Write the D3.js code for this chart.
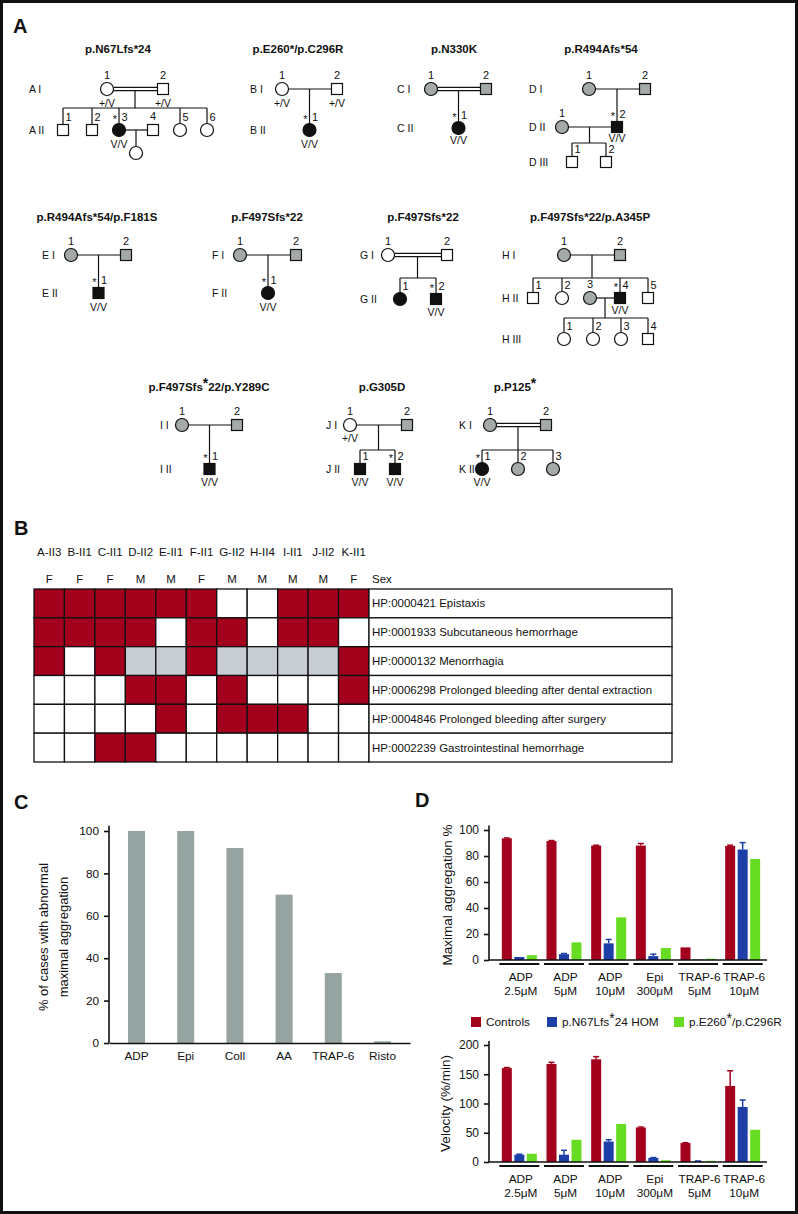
<!DOCTYPE html>
<html><head><meta charset="utf-8">
<script src="https://cdn.jsdelivr.net/npm/d3@7"></script>
<style>
body{margin:0;background:#fff}
svg{display:block}
text{font-family:"Liberation Sans",Arial,Helvetica,sans-serif;fill:#111}
</style>
</head><body>
<svg id="fig" width="798" height="1214"></svg>
<script>
// ================= DATA =================
// ---- Panel A : pedigrees ----
const pedigreeTitles = [
  ['A','p.N67Lfs*24'], ['B','p.E260*/p.C296R'], ['C','p.N330K'], ['D','p.R494Afs*54'],
  ['E','p.R494Afs*54/p.F181S'], ['F','p.F497Sfs*22'], ['G','p.F497Sfs*22'], ['H','p.F497Sfs*22/p.A345P'],
  ['I','p.F497Sfs^*22/p.Y289C'], ['J','p.G305D'], ['K','p.P125^*']
];
// [family, generation, number, sex, status(0 open,1 grey,2 affected), genotype, proband]
const pedPeople = [
  ['A','I',1,'F',0,'+/V',0],['A','I',2,'M',0,'+/V',0],
  ['A','II',1,'M',0,'',0],['A','II',2,'M',0,'',0],['A','II',3,'F',2,'V/V',1],['A','II',4,'M',0,'',0],['A','II',5,'F',0,'',0],['A','II',6,'F',0,'',0],
  ['A','III',0,'F',0,'',0],
  ['B','I',1,'F',0,'+/V',0],['B','I',2,'M',0,'+/V',0],['B','II',1,'F',2,'V/V',1],
  ['C','I',1,'F',1,'',0],['C','I',2,'M',1,'',0],['C','II',1,'F',2,'V/V',1],
  ['D','I',1,'F',1,'',0],['D','I',2,'M',1,'',0],['D','II',1,'F',1,'',0],['D','II',2,'M',2,'V/V',1],['D','III',1,'M',0,'',0],['D','III',2,'M',0,'',0],
  ['E','I',1,'F',1,'',0],['E','I',2,'M',1,'',0],['E','II',1,'M',2,'V/V',1],
  ['F','I',1,'F',1,'',0],['F','I',2,'M',1,'',0],['F','II',1,'F',2,'V/V',1],
  ['G','I',1,'F',0,'',0],['G','I',2,'M',0,'',0],['G','II',1,'F',2,'',0],['G','II',2,'M',2,'V/V',1],
  ['H','I',1,'F',1,'',0],['H','I',2,'M',1,'',0],['H','II',1,'M',0,'',0],['H','II',2,'F',0,'',0],['H','II',3,'F',1,'',0],['H','II',4,'M',2,'V/V',1],['H','II',5,'M',0,'',0],
  ['H','III',1,'F',0,'',0],['H','III',2,'F',0,'',0],['H','III',3,'F',0,'',0],['H','III',4,'M',0,'',0],
  ['I','I',1,'F',1,'',0],['I','I',2,'M',1,'',0],['I','II',1,'M',2,'V/V',1],
  ['J','I',1,'F',0,'+/V',0],['J','I',2,'M',1,'',0],['J','II',1,'M',2,'V/V',0],['J','II',2,'M',2,'V/V',1],
  ['K','I',1,'F',1,'',0],['K','I',2,'M',1,'',0],['K','II',1,'F',2,'V/V',1],['K','II',2,'F',1,'',0],['K','II',3,'F',1,'',0]
];
// [family, parents' generation, parent a, parent b, consanguineous, children]
const pedUnions = [
  ['A','I',1,2,1,[1,2,3,5,6]], ['A','II',3,4,0,[0]],
  ['B','I',1,2,0,[1]], ['C','I',1,2,1,[1]],
  ['D','I',1,2,0,[2]], ['D','II',1,2,0,[1,2]],
  ['E','I',1,2,0,[1]], ['F','I',1,2,0,[1]],
  ['G','I',1,2,1,[1,2]], ['H','I',1,2,0,[1,2,4,5]], ['H','II',3,4,0,[1,2,3,4]],
  ['I','I',1,2,0,[1]], ['J','I',1,2,0,[1,2]], ['K','I',1,2,1,[1,2,3]]
];

// ---- Panel B : phenotype matrix ----
const patients = ['A-II3','B-II1','C-II1','D-II2','E-II1','F-II1','G-II2','H-II4','I-II1','J-II2','K-II1'];
const patientSex = ['F','F','F','M','M','F','M','M','M','M','F'];
const phenotypes = ['HP:0000421 Epistaxis','HP:0001933 Subcutaneous hemorrhage','HP:0000132 Menorrhagia',
  'HP:0006298 Prolonged bleeding after dental extraction','HP:0004846 Prolonged bleeding after surgery','HP:0002239 Gastrointestinal hemorrhage'];
// 1 = present, 0 = absent, 2 = not applicable
const phenoEpistaxis   = [1,1,1,1,1,1,0,0,1,1,1];
const phenoSubcut      = [1,1,1,1,0,1,1,0,1,1,0];
const phenoMenorrhagia = [1,0,1,2,2,1,2,2,2,2,1];
const phenoDental      = [0,0,0,1,1,0,1,0,0,0,1];
const phenoSurgery     = [0,0,0,0,1,0,1,1,1,0,0];
const phenoGI          = [0,0,1,1,0,0,0,0,0,0,0];

// ---- Panel C ----
const agonistsC = ['ADP','Epi','Coll','AA','TRAP-6','Risto'];
const abnormalPct = [100,100,92,70,33,0.8];
const yTicksC = [0,20,40,60,80,100];

// ---- Panel D ----
const dAgonist = ['ADP','ADP','ADP','Epi','TRAP-6','TRAP-6'];
const dDose = ['2.5\u03bcM','5\u03bcM','10\u03bcM','300\u03bcM','5\u03bcM','10\u03bcM'];
const dSeries = ['Controls','p.N67Lfs^*24 HOM','p.E260^*/p.C296R'];
const aggControls    = [93.6, 91.5, 88.0, 88.0, 9.7, 87.7];
const aggControlsErr = [0.3, 0.4, 0.3, 1.6, 0, 0.6];
const aggN67         = [2.3, 4.5, 12.8, 3.0, 0.3, 85.0];
const aggN67Err      = [0, 0.5, 3.0, 1.5, 0, 5.3];
const aggE260        = [3.7, 13.6, 32.8, 9.2, 1.0, 77.7];
const velControls    = [160.5, 167.6, 175.6, 59.0, 32.4, 130.0];
const velControlsErr = [1.0, 2.8, 4.5, 0.8, 0.6, 26.0];
const velN67         = [12.5, 12.5, 35.0, 7.0, 1.5, 94.0];
const velN67Err      = [0.8, 7.5, 3.0, 0.6, 0.3, 12.0];
const velE260        = [14.0, 38.0, 65.0, 3.0, 2.0, 55.0];
const yTicksAgg = [0,20,40,60,80,100];
const yTicksVel = [0,50,100,150,200];

// ================= LAYOUT / STYLE =================
const C_RED = '#a3001e', C_BLUE = '#1c3fa8', C_GREEN = '#66dd22', C_GREY = '#a3aaa8', C_BAR = '#96a4a1', C_NA = '#c8ccd3', INK = '#111';
const pedLayout = {
  A:{label:29, title:[118,49], gens:['I','II'], genY:{I:89,II:130,III:153}, sib:{I:108}, genoDy:18,
     x:{I1:107,I2:163,II1:63,II2:92,II3:119,II4:153,II5:180,II6:207,III0:136}},
  B:{label:250, title:[298,49], gens:['I','II'], genY:{I:89,II:130}, sib:{}, genoDy:18, x:{I1:282,I2:337,II1:309.5}},
  C:{label:397, title:[454,49], gens:['I','II'], genY:{I:89,II:128}, sib:{}, genoDy:16, x:{I1:431,I2:486,II1:458.5}},
  D:{label:529, title:[601,49], gens:['I','II','III'], genY:{I:89,II:127,III:162}, sib:{II:143}, genoDy:15,
     x:{I1:589,I2:645,II1:562,II2:617,III1:572,III2:606}},
  E:{label:42, title:[97,217], gens:['I','II'], genY:{I:255,II:293}, sib:{}, genoDy:18, x:{I1:71,I2:126,II1:98.5}},
  F:{label:212, title:[267,217], gens:['I','II'], genY:{I:255,II:293}, sib:{}, genoDy:18, x:{I1:240,I2:296,II1:268}},
  G:{label:360, title:[423,217], gens:['I','II'], genY:{I:255,II:299}, sib:{I:278}, genoDy:17, x:{I1:388,I2:447,II1:400,II2:436}},
  H:{label:502, title:[590,217], gens:['I','II','III'], genY:{I:255,II:298,III:339}, sib:{I:278,II:318}, genoDy:16,
     x:{I1:564,I2:620,II1:533,II2:562,II3:590,II4:620,II5:648,III1:564,III2:593,III3:621,III4:648}},
  I:{label:160, title:[209,387], gens:['I','II'], genY:{I:425,II:469}, sib:{}, genoDy:17, x:{I1:182,I2:237,II1:209.5}},
  J:{label:326, title:[382,387], gens:['I','II'], genY:{I:425,II:469}, sib:{I:450}, genoDy:17, x:{I1:350,I2:407,II1:360,II2:395}},
  K:{label:459, title:[515,387], gens:['I','II'], genY:{I:425,II:469}, sib:{I:450}, genoDy:17, x:{I1:490,I2:546,II1:482,II2:518,II3:553}}
};
const nextGen = g => ({I:'II', II:'III'})[g];

// ================= DRAW =================
const svg = d3.select('#fig');
svg.append('rect').attr('x',1.5).attr('y',1.5).attr('width',795).attr('height',1211)
  .attr('fill','#fff').attr('stroke',INK).attr('stroke-width',3);

function richText(sel, str){
  str.split('^*').forEach((p,i)=>{
    if(i>0){ sel.append('tspan').attr('dy',-3.5).attr('font-size','1.2em').text('*');
             sel.append('tspan').attr('dy',3.5).text(p); }
    else sel.append('tspan').text(p);
  });
  return sel;
}
function letter(t,x,y){ svg.append('text').attr('x',x).attr('y',y).attr('font-size',20).attr('font-weight','bold').text(t); }
letter('A',13,33); letter('B',14,535); letter('C',14,809); letter('D',415,807);

// ---------- Panel A ----------
const gA = svg.append('g');
const ln = (x1,y1,x2,y2) => gA.append('line').attr('x1',x1).attr('y1',y1).attr('x2',x2).attr('y2',y2)
  .attr('stroke',INK).attr('stroke-width',1.2);
const SQ = 11, CR = 6.5;
const halfW = s => s==='F' ? CR : SQ/2;
const sexOf = (fam,gen,n) => pedPeople.find(p=>p[0]===fam&&p[1]===gen&&p[2]===n)[3];

pedigreeTitles.forEach(([fam,title])=>{
  const L = pedLayout[fam];
  richText(gA.append('text').attr('x',L.title[0]).attr('y',L.title[1]+4).attr('text-anchor','middle')
    .attr('font-weight','bold').attr('font-size',11.5), title);
  L.gens.forEach(g=>{
    gA.append('text').attr('x',L.label).attr('y',L.genY[g]+4).attr('font-size',10.5).text(fam+' '+g);
  });
});

pedUnions.forEach(([fam,gen,a,b,cons,kids])=>{
  const L = pedLayout[fam], y = L.genY[gen];
  const xa = L.x[gen+a], xb = L.x[gen+b];
  const sa = sexOf(fam,gen,a), sb = sexOf(fam,gen,b);
  const left = xa<xb ? [xa,sa] : [xb,sb], right = xa<xb ? [xb,sb] : [xa,sa];
  (cons ? [-1.7,1.7] : [0]).forEach(o => ln(left[0]+halfW(left[1]), y+o, right[0]-halfW(right[1]), y+o));
  const mx = (xa+xb)/2, cg = nextGen(gen), cy = L.genY[cg];
  const kx = kids.map(k=>L.x[cg+k]);
  if(kids.length===1){
    ln(kx[0], y+(cons?1.7:0), kx[0], cy-halfW(sexOf(fam,cg,kids[0])));
  } else {
    const sy = L.sib[gen];
    ln(mx, y+(cons?1.7:0), mx, sy);
    ln(d3.min(kx), sy, d3.max(kx), sy);
    kids.forEach((k,i)=> ln(kx[i], sy, kx[i], cy-halfW(sexOf(fam,cg,k))));
  }
});

pedPeople.forEach(([fam,gen,n,sex,st,geno,pb])=>{
  const L = pedLayout[fam], x = L.x[gen+n], y = L.genY[gen];
  const fill = st===2 ? INK : st===1 ? C_GREY : '#fff';
  if(sex==='F') gA.append('circle').attr('cx',x).attr('cy',y).attr('r',CR).attr('fill',fill).attr('stroke',INK).attr('stroke-width',1.2);
  else gA.append('rect').attr('x',x-SQ/2).attr('y',y-SQ/2).attr('width',SQ).attr('height',SQ).attr('fill',fill).attr('stroke',INK).attr('stroke-width',1.2);
  const isChild = pedUnions.some(u=>u[0]===fam && nextGen(u[1])===gen && u[5].includes(n));
  if(n>0){
    if(isChild){
      gA.append('text').attr('x',x+2.5).attr('y',y-9).attr('font-size',11).text(n);
      if(pb) gA.append('text').attr('x',x-2).attr('y',y-7).attr('font-size',11).attr('text-anchor','end').text('*');
    } else {
      gA.append('text').attr('x',x).attr('y',y-10).attr('font-size',11).attr('text-anchor','middle').text(n);
    }
  }
  if(geno) gA.append('text').attr('x',x).attr('y',y+L.genoDy).attr('font-size',10.5).attr('text-anchor','middle').text(geno);
});

// ---------- Panel B ----------
const gB = svg.append('g');
const phenoRows = [phenoEpistaxis, phenoSubcut, phenoMenorrhagia, phenoDental, phenoSurgery, phenoGI];
const bx = d3.scaleBand().domain(patients).range([34,369]);
const by = d3.scaleBand().domain(phenotypes).range([589,762]);
phenoRows.forEach((row,ri)=>{
  row.forEach((v,ci)=>{
    gB.append('rect').attr('x',bx(patients[ci])).attr('y',by(phenotypes[ri]))
      .attr('width',bx.bandwidth()).attr('height',by.bandwidth())
      .attr('fill', v===1 ? C_RED : v===2 ? C_NA : '#fff').attr('stroke',INK).attr('stroke-width',1.3);
  });
  gB.append('rect').attr('x',369).attr('y',by(phenotypes[ri])).attr('width',303).attr('height',by.bandwidth())
    .attr('fill','#fff').attr('stroke',INK).attr('stroke-width',1.3);
  gB.append('text').attr('x',372).attr('y',by(phenotypes[ri])+by.bandwidth()/2+4).attr('font-size',11.5).text(phenotypes[ri]);
});
patients.forEach((p,i)=>{
  gB.append('text').attr('x',bx(p)+bx.bandwidth()/2).attr('y',556).attr('text-anchor','middle').attr('font-size',11.5).text(p);
  gB.append('text').attr('x',bx(p)+bx.bandwidth()/2).attr('y',583).attr('text-anchor','middle').attr('font-size',11.5).text(patientSex[i]);
});
gB.append('text').attr('x',372).attr('y',583).attr('font-size',11.5).text('Sex');

// ---------- Panel C ----------
const gC = svg.append('g');
const xC = d3.scaleBand().domain(agonistsC).range([109,410]).paddingInner(0.654).paddingOuter(0.386);
const yC = d3.scaleLinear().domain([0,100]).range([1043,831]);
gC.selectAll('rect.bar').data(agonistsC).join('rect').attr('class','bar')
  .attr('x',d=>xC(d)).attr('width',xC.bandwidth())
  .attr('y',(d,i)=>yC(abnormalPct[i])).attr('height',(d,i)=>yC(0)-yC(abnormalPct[i])).attr('fill',C_BAR);
const axC = gC.append('g').attr('transform','translate(109,0)')
  .call(d3.axisLeft(yC).tickValues(yTicksC).tickSize(5).tickSizeOuter(0).tickPadding(5));
axC.select('.domain').attr('d',`M0,${yC(0)}V${yC(102.5)}`);
const axCx = gC.append('g').attr('transform',`translate(0,${yC(0)})`)
  .call(d3.axisBottom(xC).tickSize(0).tickPadding(9));
[axC, axCx].forEach(a=>{
  a.selectAll('path,line').attr('stroke',INK).attr('stroke-width',1.6);
  a.selectAll('text').attr('font-size',11.8).attr('fill',INK).attr('font-family','"Liberation Sans",Arial,sans-serif');
});
gC.append('text').attr('transform',`translate(47.5,${(yC(0)+yC(100))/2}) rotate(-90)`).attr('text-anchor','middle').attr('font-size',13).text('% of cases with abnormal');
gC.append('text').attr('transform',`translate(67.5,${(yC(0)+yC(100))/2}) rotate(-90)`).attr('text-anchor','middle').attr('font-size',13).text('maximal aggregation');

// ---------- Panel D ----------
const groups = dAgonist.map((a,i)=>a+' '+dDose[i]);
const xD = d3.scaleBand().domain(groups).range([497,765]);
const xSub = d3.scaleBand().domain(dSeries).range([xD.bandwidth()/2-17.5, xD.bandwidth()/2+17.5]).paddingInner(0.2);
const seriesColor = d3.scaleOrdinal().domain(dSeries).range([C_RED,C_BLUE,C_GREEN]);

function barChart(y0, y1, ymax, ticks, vals, errs, title, titleX){
  const g = svg.append('g');
  const yS = d3.scaleLinear().domain([0,ymax]).range([y0,y1]);
  dSeries.forEach((s,si)=>{
    groups.forEach((gr,gi)=>{
      const v = vals[si][gi], e = errs[si] ? errs[si][gi] : 0;
      const x = xD(gr)+xSub(s);
      g.append('rect').attr('x',x).attr('width',xSub.bandwidth()).attr('y',yS(v)).attr('height',yS(0)-yS(v)).attr('fill',seriesColor(s));
      if(e>0.2){
        const cx = x+xSub.bandwidth()/2;
        g.append('line').attr('x1',cx).attr('x2',cx).attr('y1',yS(v)).attr('y2',yS(v+e)).attr('stroke',seriesColor(s)).attr('stroke-width',1.5);
        g.append('line').attr('x1',cx-3).attr('x2',cx+3).attr('y1',yS(v+e)).attr('y2',yS(v+e)).attr('stroke',seriesColor(s)).attr('stroke-width',1.5);
      }
    });
  });
  const ay = g.append('g').attr('transform','translate(489,0)')
    .call(d3.axisLeft(yS).tickValues(ticks).tickSize(5).tickSizeOuter(0).tickPadding(5));
  ay.select('.domain').attr('d',`M0,${y0}V${yS(ymax*1.035)}`);
  ay.selectAll('path,line').attr('stroke',INK).attr('stroke-width',1.6);
  ay.selectAll('text').attr('font-size',12).attr('fill',INK).attr('font-family','"Liberation Sans",Arial,sans-serif');
  g.append('line').attr('x1',489).attr('x2',767).attr('y1',y0).attr('y2',y0).attr('stroke',INK).attr('stroke-width',1.6);
  groups.forEach((gr,gi)=>{
    const c = xD(gr)+xD.bandwidth()/2;
    g.append('line').attr('x1',c-20).attr('x2',c+20).attr('y1',y0+4).attr('y2',y0+4).attr('stroke',INK).attr('stroke-width',2);
    g.append('text').attr('x',c+1.5).attr('y',y0+21).attr('text-anchor','middle').attr('font-size',11.8).text(dAgonist[gi]);
    g.append('text').attr('x',c+1.5).attr('y',y0+35).attr('text-anchor','middle').attr('font-size',11.8).text(dDose[gi]);
  });
  g.append('text').attr('transform',`translate(${titleX},${(y0+yS(ymax))/2}) rotate(-90)`).attr('text-anchor','middle').attr('font-size',13.5).text(title);
}
barChart(960, 830, 100, yTicksAgg, [aggControls,aggN67,aggE260], [aggControlsErr,aggN67Err,null], 'Maximal aggregation %', 452);
barChart(1162, 1045, 200, yTicksVel, [velControls,velN67,velE260], [velControlsErr,velN67Err,null], 'Velocity (%/min)', 450);

// legend
const legX = [471,547,674];
const gL = svg.append('g');
dSeries.forEach((s,i)=>{
  gL.append('rect').attr('x',legX[i]).attr('y',1017).attr('width',10).attr('height',10).attr('fill',seriesColor(s));
  richText(gL.append('text').attr('x',legX[i]+15).attr('y',1026).attr('font-size',11.8), s);
});
</script>
</body></html>
